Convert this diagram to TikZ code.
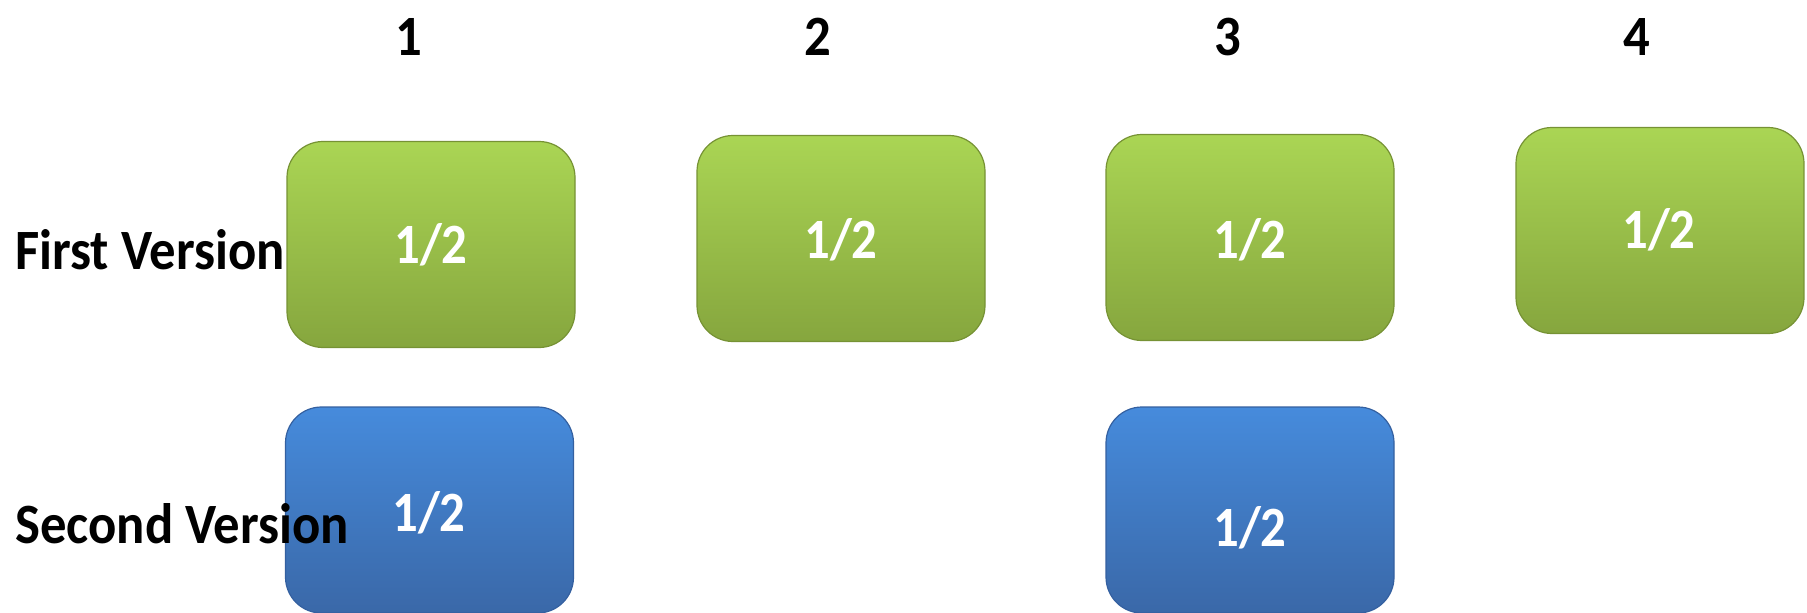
\documentclass[tikz,border=0pt]{standalone}
\usepackage{fontspec}
\setmainfont{Carlito}
\newcommand{\nrw}[1]{\scalebox{0.925}[1]{#1}}
\newcommand{\nrv}[1]{\scalebox{0.89}[1]{#1}}
\begin{document}
\begin{tikzpicture}[x=1pt,y=-1pt,
  lbl/.style={font=\fontsize{57}{68}\selectfont\bfseries, text=black, inner sep=0pt},
  val/.style={font=\fontsize{57}{68}\selectfont\bfseries, text=white, inner sep=0pt},
  gbox/.style={rounded corners=36pt, draw={rgb,255:red,118;green,146;blue,52}, line width=1.2pt,
    top color={rgb,255:red,170;green,213;blue,84}, bottom color={rgb,255:red,134;green,166;blue,62},
    minimum width=288pt, minimum height=206pt, inner sep=0pt},
  bbox/.style={rounded corners=36pt, draw={rgb,255:red,52;green,96;blue,160}, line width=1.2pt,
    top color={rgb,255:red,70;green,139;blue,220}, bottom color={rgb,255:red,58;green,104;blue,168},
    minimum width=288pt, minimum height=206pt, inner sep=0pt}]
\useasboundingbox (0,0) rectangle (1807,613);
% green boxes
\node[gbox] (g1) at (431,244.5) {};
\node[gbox] (g2) at (841,238.5) {};
\node[gbox] (g3) at (1250,237.5) {};
\node[gbox] (g4) at (1660,230.5) {};
% blue boxes
\node[bbox] (b1) at (429.5,510) {};
\node[bbox] (b3) at (1250,510) {};
% values
\node[val] (v1) at (g1.center) {\nrv{1/2}};
\node[val] (v2) at (841,240) {\nrv{1/2}};
\node[val] (v3) at (1250,240) {\nrv{1/2}};
\node[val] (v4) at (1659,230) {\nrv{1/2}};
\node[val] (w1) at (429,513) {\nrv{1/2}};
\node[val] (w3) at (1250,528) {\nrv{1/2}};
% column headers
\node[lbl] (h1) at (409,37) {\nrw{1}};
\node[lbl] (h2) at (818,37) {\nrw{2}};
\node[lbl] (h3) at (1228,37) {\nrw{3}};
\node[lbl] (h4) at (1637,37) {\nrw{4}};
% row labels
\node[lbl, anchor=west] (r1) at (15,250) {\nrw{First Version}};
\node[lbl, anchor=west] (r2) at (15,524) {\nrw{Second Version}};
\end{tikzpicture}
\end{document}
